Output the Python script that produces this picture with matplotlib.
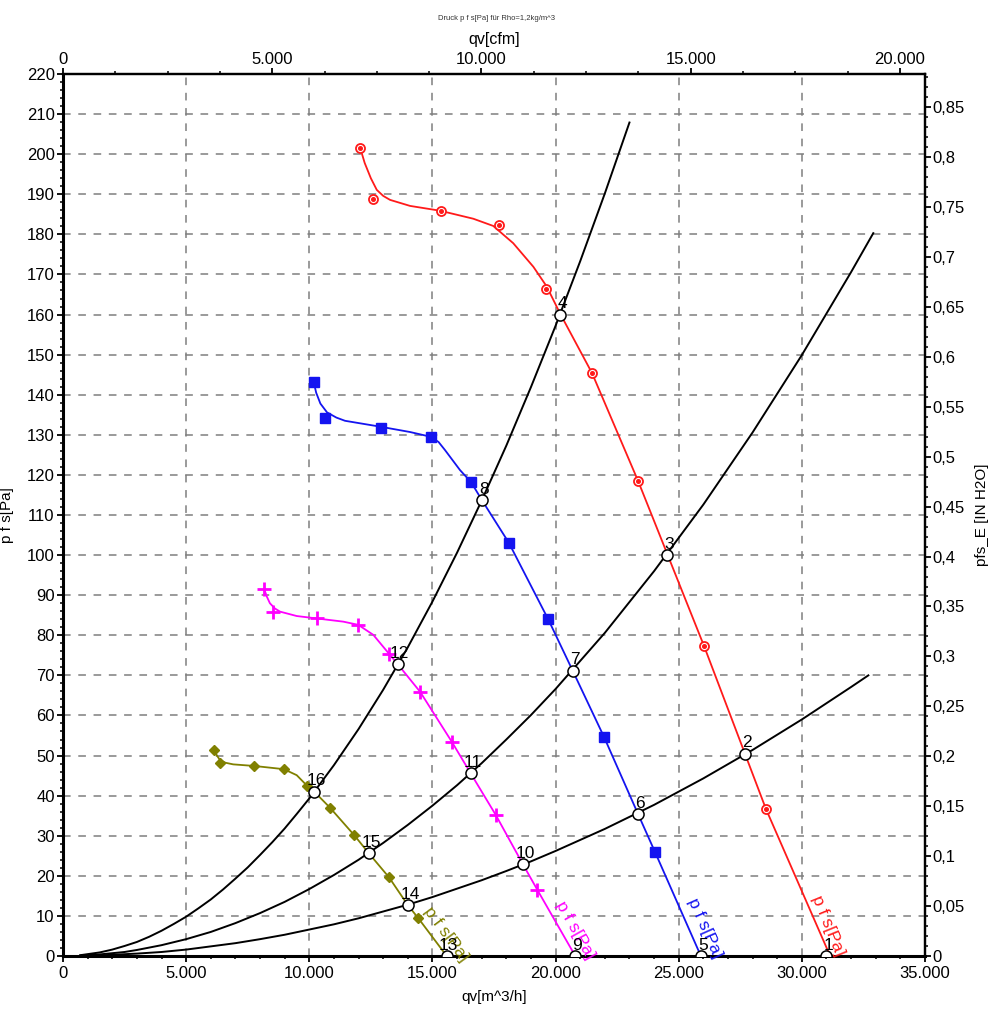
import matplotlib
matplotlib.use("Agg")
import matplotlib.pyplot as plt
from matplotlib.ticker import MultipleLocator, FuncFormatter, FixedLocator

plt.rcParams['font.family'] = ['Liberation Sans', 'DejaVu Sans']

# ---------------- data (qv in m^3/h, p in Pa) ----------------
red_curve_q = [12070, 12250, 12500, 12740, 13000, 13280, 14090, 15310, 16660, 17470, 18280, 19100, 19640,
               20180, 21480, 23350, 26030, 28540, 31150]
red_curve_p = [201.5, 197.8, 194.0, 191.1, 189.6, 188.6, 187.1, 185.9, 183.9, 182.1, 177.8, 171.9, 167.0,
               160.3, 145.4, 118.5, 77.3, 36.7, 0.0]
red_pts_q = [12070, 12590, 15350, 17690, 19610, 21480, 23350, 26030, 28540]
red_pts_p = [201.5, 188.8, 185.8, 182.3, 166.4, 145.4, 118.5, 77.3, 36.7]

blue_curve_q = [10190, 10280, 10450, 10720, 11100, 11450, 12910, 14090, 14940, 15250, 15510, 16120, 16570, 17010,
                18100, 19700, 20700, 21970, 23350, 24040, 25900]
blue_curve_p = [142.9, 140.5, 137.8, 135.6, 134.3, 133.5, 132.0, 130.7, 129.5, 128.2, 126.2, 121.2, 118.2, 113.7,
                103.1, 84.0, 71.1, 54.6, 35.4, 25.9, 0.0]
blue_pts_q = [10190, 10640, 12910, 14940, 16570, 18100, 19700, 21970, 24040]
blue_pts_p = [143.2, 134.2, 131.7, 129.5, 118.2, 103.1, 84.0, 54.6, 25.9]

mag_curve_q = [8170, 8280, 8400, 8600, 8810, 9490, 10300, 11380, 11990, 12600, 13250, 13590, 14500,
               15780, 16550, 17570, 18690, 19260, 20800]
mag_curve_p = [91.5, 89.6, 88.0, 86.7, 85.9, 84.8, 84.2, 83.4, 82.6, 80.1, 75.3, 72.8, 65.9,
               53.5, 45.6, 35.2, 22.7, 16.5, 0.0]
mag_pts_q = [8170, 8510, 10300, 11990, 13250, 14500, 15780, 17570, 19260]
mag_pts_p = [91.5, 85.9, 84.2, 82.6, 75.3, 65.9, 53.5, 35.2, 16.5]

olv_curve_q = [6140, 6250, 6370, 6600, 6910, 7770, 8970, 9490, 9920, 10200, 10840, 11830, 12420,
               13240, 14000, 14430, 15580]
olv_curve_p = [51.4, 50.0, 48.9, 48.2, 47.8, 47.4, 46.6, 45.1, 42.4, 41.0, 37.0, 30.1, 25.6,
               19.6, 12.7, 9.4, 0.0]
olv_pts_q = [6140, 6370, 7770, 8970, 9920, 10840, 11830, 13240, 14430]
olv_pts_p = [51.4, 48.1, 47.4, 46.6, 42.4, 37.0, 30.1, 19.6, 9.4]

# system curves
sysA_q = [700, 1500, 2000, 2500, 3000, 3500, 4000, 4500, 5000, 5500, 6000, 6500, 7000, 7500, 8000,
          8500, 9000, 9500, 10000, 11000, 12000, 13000,
          14000, 15000, 16000, 17000, 18000, 19000, 20000, 21000, 22000, 23000]
sysA_p = [0.2, 0.9, 1.6, 2.5, 3.5, 4.8, 6.3, 8.0, 9.8, 11.9, 14.1, 16.6, 19.3, 22.1, 25.2,
          28.4, 31.8, 35.5, 39.3, 47.6, 56.6, 66.4,
          77.0, 88.4, 100.6, 113.6, 127.3, 141.9, 157.2, 173.3, 190.2, 207.9]
sysB_q = [700, 1500, 2000, 2500, 3000, 4000, 5000, 6000, 7000, 8000, 9000, 10000, 11000, 12000, 13000,
          14000, 15000, 16000, 17000, 18000, 19000, 20000, 22000, 24000, 26000, 28000, 30000, 32000, 32900]
sysB_p = [0.1, 0.4, 0.7, 1.0, 1.5, 2.7, 4.2, 6.0, 8.2, 10.7, 13.5, 16.7, 20.2, 24.0, 28.2,
          32.7, 37.5, 42.6, 48.1, 54.0, 60.1, 66.6, 80.6, 96.0, 112.6, 130.6, 149.9, 170.6, 180.3]
sysC_q = [700, 1500, 2000, 3000, 4000, 5000, 6000, 7000, 8000, 9000, 10000, 11000, 12000, 13000,
          14000, 15000, 16000, 17000, 18000, 19000,
          20000, 22000, 24000, 26000, 28000, 30000, 32000, 32700]
sysC_p = [0.0, 0.15, 0.3, 0.6, 1.0, 1.6, 2.4, 3.2, 4.2, 5.3, 6.6, 7.9, 9.4, 11.1,
          12.8, 14.7, 16.8, 18.9, 21.2, 23.6,
          26.2, 31.7, 37.7, 44.3, 51.4, 59.0, 67.1, 70.0]

# operating points
op_labels = ['1', '2', '3', '4', '5', '6', '7', '8', '9', '10', '11', '12', '13', '14', '15', '16']
op_q = [30980, 27690, 24520, 20180, 25900, 23350, 20700, 17010, 20780, 18690, 16550, 13590,
        15580, 14000, 12420, 10200]
op_p = [0.0, 50.4, 100.0, 159.9, 0.0, 35.4, 71.1, 113.7, 0.0, 22.9, 45.6, 72.8,
        0.0, 12.7, 25.6, 41.0]

curve_label = 'p f s[Pa]'
RED, BLUE, MAG, OLV = '#ff1a1a', '#1414f0', '#ff00ff', '#808000'

# ---------------- figure ----------------
fig = plt.figure(figsize=(10.02, 10.24), dpi=100)
ax = fig.add_axes([63/1002, 1-956/1024, (925-63)/1002, (956-74)/1024])
ax.set_xlim(0, 35000)
ax.set_ylim(0, 220)

# grid
for gx in range(5000, 35000, 5000):
    ax.axvline(gx, color='#7f7f7f', lw=1.1, ls=(0, (5, 5)), zorder=0.5)
for gy in range(10, 220, 10):
    ax.axhline(gy, color='#7f7f7f', lw=1.1, ls=(0, (5, 5)), zorder=0.5)

# system curves
for q, p in [(sysA_q, sysA_p), (sysB_q, sysB_p), (sysC_q, sysC_p)]:
    ax.plot(q, p, color='black', lw=1.4, zorder=2)

# fan curves
ax.plot(red_curve_q, red_curve_p, color=RED, lw=1.3, zorder=3)
ax.plot(red_pts_q, red_pts_p, ls='none', marker='o', ms=6.5, mfc='white', mec=RED, mew=1.3, zorder=4)
ax.plot(red_pts_q, red_pts_p, ls='none', marker='o', ms=2.6, mfc=RED, mec=RED, zorder=4)

ax.plot(blue_curve_q, blue_curve_p, color=BLUE, lw=1.3, zorder=3)
ax.plot(blue_pts_q, blue_pts_p, ls='none', marker='s', ms=7, mfc=BLUE, mec=BLUE, zorder=4)

ax.plot(mag_curve_q, mag_curve_p, color=MAG, lw=1.3, zorder=3)
ax.plot(mag_pts_q, mag_pts_p, ls='none', marker='+', ms=10, mec=MAG, mew=2, zorder=4)

ax.plot(olv_curve_q, olv_curve_p, color=OLV, lw=1.3, zorder=3)
ax.plot(olv_pts_q, olv_pts_p, ls='none', marker='D', ms=5, mfc=OLV, mec=OLV, zorder=4)

# operating points
ax.plot(op_q, op_p, ls='none', marker='o', ms=8, mfc='white', mec='black', mew=1.1, zorder=6)
for lab, q, p in zip(op_labels, op_q, op_p):
    ax.annotate(lab, (q, p), xytext=(1.5, 2.5), textcoords='offset points',
                ha='center', va='bottom', fontsize=12.5, color='black', zorder=7)

# curve labels
lab_pos = [(31060, 7.5, -67.8, RED), (26060, 7.0, -66.0, BLUE),
           (20790, 6.5, -60.7, MAG), (15560, 5.5, -53.6, OLV)]
for x, y, rot, c in lab_pos:
    ax.text(x, y, curve_label, color=c, fontsize=12.5, rotation=rot, rotation_mode='anchor',
            ha='center', va='center', clip_on=False, zorder=5)

# ---------------- axes formatting ----------------
def thousands(v, pos=None):
    return f"{int(round(v)):,}".replace(',', '.')

def inch_fmt(v, pos=None):
    s = f"{v:.2f}".rstrip('0').rstrip('.')
    return s.replace('.', ',')

ax.xaxis.set_major_locator(MultipleLocator(5000))
ax.xaxis.set_minor_locator(MultipleLocator(1000))
ax.xaxis.set_major_formatter(FuncFormatter(thousands))
ax.yaxis.set_major_locator(MultipleLocator(10))
ax.yaxis.set_minor_locator(MultipleLocator(2))
ax.tick_params(axis='both', which='major', direction='out', length=4, width=1.3,
               labelsize=12, pad=2)
ax.tick_params(axis='both', which='minor', direction='out', length=2.5, width=1.1)
ax.tick_params(axis='x', which='major', pad=3)
ax.set_xlabel('qv[m^3/h]', fontsize=11, labelpad=7)
ax.set_ylabel('p f s[Pa]', fontsize=11, labelpad=9)

for s in ['left', 'bottom']:
    ax.spines[s].set_linewidth(2.2)
for s in ['top', 'right']:
    ax.spines[s].set_linewidth(1.6)

CFM = 1.699
sec_x = ax.secondary_xaxis('top', functions=(lambda x: x / CFM, lambda x: x * CFM))
sec_x.xaxis.set_major_locator(FixedLocator([0, 5000, 10000, 15000, 20000]))
sec_x.xaxis.set_minor_locator(MultipleLocator(1250))
sec_x.xaxis.set_major_formatter(FuncFormatter(thousands))
sec_x.tick_params(which='major', direction='out', length=4, width=1.3, labelsize=12, pad=1)
sec_x.tick_params(which='minor', direction='out', length=2.5, width=1.1)
sec_x.set_xlabel('qv[cfm]', fontsize=11.5, labelpad=6)
sec_x.spines['top'].set_linewidth(1.6)

INH2O = 249.089
sec_y = ax.secondary_yaxis('right', functions=(lambda y: y / INH2O, lambda y: y * INH2O))
sec_y.yaxis.set_major_locator(MultipleLocator(0.05))
sec_y.yaxis.set_minor_locator(MultipleLocator(0.01))
sec_y.yaxis.set_major_formatter(FuncFormatter(inch_fmt))
sec_y.tick_params(which='major', direction='out', length=4, width=1.3, labelsize=12, pad=1)
sec_y.tick_params(which='minor', direction='out', length=2.5, width=1.1)
sec_y.set_ylabel('pfs_E [IN H2O]', fontsize=11, labelpad=8)
sec_y.spines['right'].set_linewidth(1.6)

fig.text(0.496, 1 - 19/1024, 'Druck p f s[Pa] für Rho=1,2kg/m^3', fontsize=5.5,
         ha='center', va='center', color='#333333')

fig.savefig('out.png', dpi=100)
